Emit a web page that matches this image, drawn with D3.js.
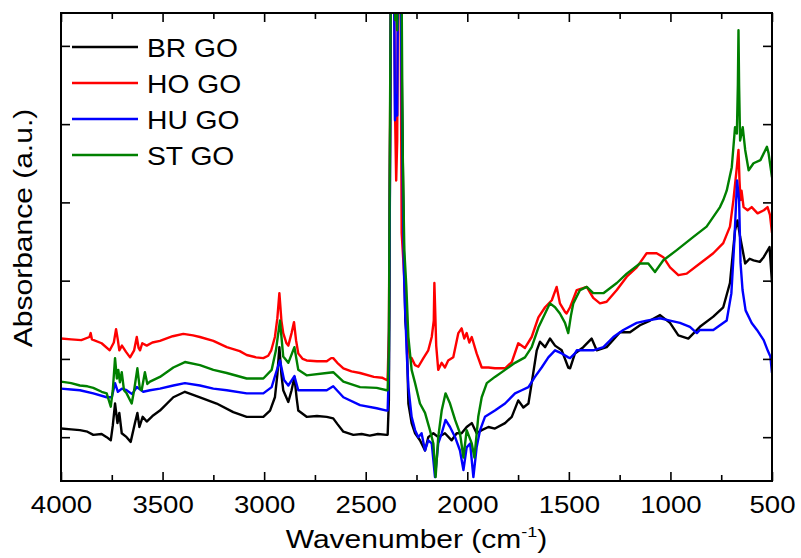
<!DOCTYPE html>
<html>
<head>
<meta charset="utf-8">
<script src="https://cdn.jsdelivr.net/npm/d3@7"></script>
<style>
body { margin: 0; background: #fff; }
svg text { font-family: "Liberation Sans", Arial, sans-serif; fill: #000; }
</style>
</head>
<body>
<svg id="chart" width="801" height="558"></svg>
<script>
// FTIR spectra, [wavenumber cm-1, absorbance a.u.]
const brGO = [
  [4000,0.11],[3950,0.10],[3907,0.09],[3870,0.07],[3841,0.03],[3800,0.04],[3775,0.00],[3755,-0.04],[3745,0.15],[3734,0.43],
  [3722,0.18],[3713,0.31],[3701,0.05],[3677,0.00],[3657,-0.06],[3636,0.18],[3624,0.31],[3614,0.13],[3598,0.26],[3578,0.20],
  [3550,0.27],[3513,0.34],[3447,0.51],[3390,0.58],[3316,0.51],[3234,0.43],[3152,0.32],[3086,0.26],[3004,0.26],[2971,0.34],
  [2947,0.51],[2935,0.80],[2925,1.15],[2915,0.80],[2906,0.60],[2881,0.45],[2865,0.60],[2851,0.77],[2840,0.50],[2832,0.34],
  [2791,0.26],[2740,0.27],[2692,0.26],[2660,0.24],[2640,0.17],[2610,0.07],[2561,0.03],[2520,0.04],[2480,0.02],[2440,0.04],
  [2397,0.03],[2392,0.03],[2386,0.47],[2380,3.67],[2375,6.35],[2340,6.35],[2330,6.35],[2320,4.05],[2312,2.39],[2305,1.49],
  [2298,1.28],[2290,0.43],[2274,0.18],[2257,0.05],[2233,-0.04],[2208,-0.17],[2192,0.00],[2167,0.05],[2143,0.00],[2110,0.05],
  [2077,-0.04],[2052,0.05],[2028,0.05],[2003,0.13],[1978,0.18],[1954,0.05],[1929,0.09],[1896,0.13],[1864,0.11],[1814,0.18],
  [1781,0.26],[1749,0.47],[1724,0.38],[1699,0.43],[1683,0.69],[1658,1.11],[1642,1.22],[1617,1.15],[1593,1.26],[1568,1.17],
  [1535,1.11],[1503,0.89],[1494,0.88],[1470,1.07],[1429,1.15],[1388,1.26],[1363,1.11],[1314,1.15],[1248,1.34],[1199,1.34],
  [1150,1.43],[1100,1.49],[1051,1.56],[1002,1.46],[961,1.30],[912,1.26],[855,1.41],[789,1.54],[740,1.66],[707,1.97],
  [682,2.64],[670,2.77],[657,2.56],[632,2.22],[610,2.28],[591,2.26],[560,2.24],[541,2.30],[512,2.43],[500,1.97]
];

const hoGO = [
  [4000,1.26],[3950,1.25],[3900,1.24],[3860,1.28],[3854,1.33],[3848,1.25],[3800,1.20],[3760,1.11],[3740,1.21],[3729,1.38],
  [3720,1.24],[3713,1.11],[3700,1.17],[3680,1.09],[3660,1.02],[3640,1.11],[3627,1.28],[3618,1.14],[3611,1.11],[3600,1.20],
  [3578,1.17],[3550,1.21],[3513,1.23],[3450,1.29],[3398,1.32],[3350,1.30],[3316,1.28],[3250,1.23],[3184,1.15],[3120,1.10],
  [3086,1.05],[3040,1.02],[3004,1.01],[2980,1.04],[2965,1.11],[2947,1.28],[2935,1.52],[2925,1.84],[2915,1.49],[2906,1.33],
  [2890,1.20],[2881,1.17],[2865,1.33],[2853,1.47],[2843,1.24],[2832,1.07],[2810,1.00],[2791,0.98],[2740,0.97],[2692,0.97],
  [2670,1.01],[2660,1.01],[2640,0.95],[2610,0.88],[2570,0.84],[2528,0.82],[2460,0.77],[2420,0.76],[2397,0.73],[2392,0.75],
  [2386,1.37],[2380,4.05],[2375,6.35],[2362,6.35],[2355,4.05],[2350,3.28],[2345,3.79],[2340,6.35],[2330,6.35],[2323,2.61],
  [2315,2.26],[2298,1.49],[2290,1.17],[2282,1.02],[2274,1.01],[2257,0.92],[2241,0.90],[2216,1.01],[2192,1.11],[2175,1.28],
  [2165,1.49],[2162,1.97],[2158,1.62],[2153,1.17],[2143,0.86],[2126,0.95],[2110,0.89],[2094,0.98],[2069,1.02],[2044,1.33],
  [2028,1.39],[2015,1.26],[2003,1.33],[1990,1.21],[1978,1.28],[1954,1.07],[1929,0.89],[1896,0.89],[1864,0.88],[1814,0.88],
  [1781,0.96],[1749,1.20],[1716,1.14],[1683,1.28],[1650,1.53],[1617,1.66],[1584,1.75],[1560,1.92],[1544,1.71],[1519,1.60],
  [1511,1.58],[1494,1.66],[1461,1.88],[1412,1.92],[1380,1.78],[1347,1.71],[1314,1.73],[1264,1.88],[1215,2.05],[1166,2.17],
  [1117,2.35],[1068,2.35],[1035,2.30],[1002,2.17],[961,2.07],[920,2.09],[855,2.22],[789,2.35],[740,2.48],[707,2.69],
  [690,3.03],[673,3.45],[665,3.67],[660,3.28],[655,3.03],[650,3.15],[640,2.94],[620,2.90],[600,2.94],[571,2.86],
  [540,2.90],[522,2.94],[510,2.84],[500,2.61]
];

const huGO = [
  [4000,0.62],[3950,0.61],[3907,0.60],[3841,0.56],[3775,0.51],[3750,0.51],[3734,0.69],[3720,0.58],[3700,0.62],[3677,0.60],
  [3650,0.55],[3627,0.64],[3595,0.58],[3562,0.60],[3513,0.62],[3447,0.66],[3390,0.69],[3316,0.66],[3250,0.62],[3184,0.60],
  [3086,0.56],[3004,0.56],[2963,0.64],[2942,0.82],[2922,0.98],[2902,0.73],[2881,0.66],[2851,0.78],[2832,0.60],[2791,0.60],
  [2692,0.60],[2660,0.65],[2610,0.51],[2528,0.41],[2446,0.37],[2397,0.34],[2392,0.34],[2386,0.86],[2380,3.67],[2375,6.35],
  [2362,6.35],[2356,4.05],[2350,4.37],[2345,4.11],[2340,6.35],[2330,6.35],[2320,3.67],[2312,2.13],[2307,1.71],[2298,1.07],
  [2290,0.64],[2274,0.26],[2257,0.09],[2241,0.00],[2225,0.05],[2208,-0.17],[2192,-0.04],[2175,-0.08],[2159,-0.51],[2143,-0.08],
  [2126,0.05],[2107,0.22],[2085,0.13],[2060,0.00],[2036,-0.17],[2019,-0.42],[2003,-0.13],[1986,-0.08],[1970,-0.51],[1954,-0.13],
  [1937,0.09],[1913,0.26],[1864,0.34],[1814,0.43],[1765,0.56],[1732,0.60],[1699,0.64],[1667,0.77],[1634,0.89],[1601,1.02],
  [1568,1.11],[1535,1.07],[1503,1.02],[1494,1.01],[1470,1.07],[1461,1.11],[1380,1.11],[1330,1.15],[1281,1.28],[1232,1.37],
  [1166,1.46],[1117,1.49],[1051,1.52],[1002,1.49],[953,1.46],[904,1.41],[870,1.33],[855,1.37],[789,1.37],[723,1.49],
  [700,1.84],[685,2.52],[672,3.28],[662,3.03],[655,2.23],[645,1.88],[630,1.62],[600,1.46],[574,1.37],[541,1.24],
  [520,1.10],[508,1.03],[500,0.82]
];

const stGO = [
  [4000,0.71],[3950,0.69],[3907,0.66],[3870,0.65],[3841,0.63],[3800,0.58],[3775,0.56],[3755,0.39],[3745,0.60],[3734,1.01],
  [3725,0.75],[3718,0.86],[3710,0.70],[3701,0.83],[3690,0.60],[3677,0.56],[3652,0.43],[3640,0.60],[3624,0.88],[3612,0.62],
  [3603,0.60],[3587,0.83],[3575,0.68],[3562,0.71],[3513,0.77],[3447,0.89],[3390,0.96],[3316,0.92],[3250,0.86],[3184,0.82],
  [3086,0.75],[3004,0.75],[2963,0.86],[2942,1.11],[2922,1.49],[2906,1.03],[2881,0.95],[2851,1.15],[2832,0.86],[2791,0.79],
  [2692,0.82],[2660,0.83],[2610,0.71],[2528,0.64],[2446,0.63],[2397,0.60],[2392,0.60],[2386,1.11],[2380,4.30],[2375,6.35],
  [2360,6.35],[2355,5.33],[2350,5.45],[2345,5.20],[2340,6.35],[2325,6.35],[2318,3.67],[2310,2.39],[2300,1.92],[2290,1.28],
  [2274,0.86],[2257,0.69],[2233,0.43],[2208,0.31],[2184,0.09],[2167,-0.08],[2156,-0.51],[2143,0.00],[2126,0.34],[2107,0.56],
  [2085,0.43],[2060,0.22],[2036,0.05],[2019,-0.26],[2003,0.09],[1978,-0.08],[1965,-0.26],[1946,0.26],[1929,0.51],[1904,0.69],
  [1864,0.77],[1814,0.86],[1765,0.95],[1716,1.02],[1683,1.15],[1650,1.40],[1617,1.58],[1593,1.71],[1568,1.66],[1544,1.58],
  [1519,1.46],[1503,1.33],[1490,1.55],[1478,1.71],[1445,1.88],[1412,1.92],[1380,1.84],[1330,1.84],[1264,1.97],[1215,2.09],
  [1150,2.22],[1109,2.22],[1076,2.11],[1035,2.26],[969,2.39],[887,2.56],[822,2.69],[756,2.94],[740,3.03],[723,3.15],
  [698,3.45],[682,3.96],[673,3.88],[668,4.50],[665,5.20],[662,4.50],[657,3.79],[644,3.96],[632,3.67],[615,3.41],
  [591,3.50],[557,3.54],[525,3.71],[517,3.63],[500,3.32]
];

const seriesNames = ["BR GO", "HO GO", "HU GO", "ST GO"];
const seriesColors = ["#000000", "#ff0000", "#0000ff", "#008000"];
const seriesData = [brGO, hoGO, huGO, stGO];

const xMajor = [4000, 3500, 3000, 2500, 2000, 1500, 1000, 500];
const xMinor = [3750, 3250, 2750, 2250, 1750, 1250, 750];
const yMajor = [0, 1, 2, 3, 4, 5];

const plotLeft = 61, plotRight = 772, plotTop = 13, plotBottom = 481;

const svg = d3.select("#chart");

const x = d3.scaleLinear().domain([4000, 500]).range([plotLeft, plotRight]);
const y = d3.scaleLinear().domain([-0.56, 5.42]).range([plotBottom, plotTop]);

svg.append("clipPath").attr("id", "plotClip")
    .append("rect")
    .attr("x", plotLeft).attr("y", plotTop)
    .attr("width", plotRight - plotLeft).attr("height", plotBottom - plotTop);

// spectra
const line = d3.line()
    .x(d => x(d[0]))
    .y(d => y(d[1]));

const lines = svg.append("g").attr("clip-path", "url(#plotClip)");
seriesData.forEach((data, i) => {
    lines.append("path")
        .datum(data)
        .attr("d", line)
        .attr("fill", "none")
        .attr("stroke", seriesColors[i])
        .attr("stroke-width", 2.4)
        .attr("stroke-linejoin", "round");
});

// axes, ticks inward
function styleAxis(g) {
    g.select(".domain").remove();
    g.attr("font-family", null).attr("font-size", 23);
    g.selectAll(".tick line").attr("stroke", "#000").attr("stroke-width", 1.6);
}

svg.append("g")
    .attr("transform", "translate(0," + plotBottom + ")")
    .call(d3.axisBottom(x).tickValues(xMajor).tickSizeInner(-9).tickSizeOuter(0).tickFormat(d3.format("d")))
    .call(styleAxis)
    .selectAll("text")
    .attr("y", 32)
    .attr("dy", null)
    .attr("transform", "scale(1.2,1)");

svg.append("g")
    .attr("transform", "translate(0," + plotBottom + ")")
    .call(d3.axisBottom(x).tickValues(xMinor).tickSizeInner(-6).tickSizeOuter(0).tickFormat(""))
    .call(styleAxis);

svg.append("g")
    .attr("transform", "translate(0," + plotTop + ")")
    .call(d3.axisTop(x).tickValues(xMajor).tickSizeInner(-9).tickSizeOuter(0).tickFormat(""))
    .call(styleAxis);

svg.append("g")
    .attr("transform", "translate(0," + plotTop + ")")
    .call(d3.axisTop(x).tickValues(xMinor).tickSizeInner(-6).tickSizeOuter(0).tickFormat(""))
    .call(styleAxis);

svg.append("g")
    .attr("transform", "translate(" + plotLeft + ",0)")
    .call(d3.axisLeft(y).tickValues(yMajor).tickSizeInner(-9).tickSizeOuter(0).tickFormat(""))
    .call(styleAxis);

svg.append("g")
    .attr("transform", "translate(" + plotRight + ",0)")
    .call(d3.axisRight(y).tickValues(yMajor).tickSizeInner(-9).tickSizeOuter(0).tickFormat(""))
    .call(styleAxis);

// frame
svg.append("rect")
    .attr("x", plotLeft).attr("y", plotTop)
    .attr("width", plotRight - plotLeft).attr("height", plotBottom - plotTop)
    .attr("fill", "none")
    .attr("stroke", "#000")
    .attr("stroke-width", 2);

// axis titles
const xTitle = svg.append("text")
    .attr("transform", "translate(" + ((plotLeft + plotRight) / 2) + ",548) scale(1.2,1)")
    .attr("text-anchor", "middle")
    .attr("font-size", 25);
xTitle.append("tspan").text("Wavenumber (cm");
xTitle.append("tspan").attr("font-size", 15).attr("dy", -11).text("-1");
xTitle.append("tspan").attr("dy", 11).text(")");

svg.append("text")
    .attr("transform", "translate(32,228) rotate(-90) scale(1.2,1)")
    .attr("text-anchor", "middle")
    .attr("font-size", 25)
    .text("Absorbance (a.u.)");

// legend
const legend = svg.append("g");
seriesNames.forEach((name, i) => {
    const ly = 47 + i * 36;
    legend.append("line")
        .attr("x1", 72).attr("x2", 138)
        .attr("y1", ly).attr("y2", ly)
        .attr("stroke", seriesColors[i])
        .attr("stroke-width", 2.4);
    legend.append("text")
        .attr("transform", "translate(147," + (ly + 9.5) + ") scale(1.13,1)")
        .attr("font-size", 25)
        .text(name);
});
</script>
</body>
</html>
